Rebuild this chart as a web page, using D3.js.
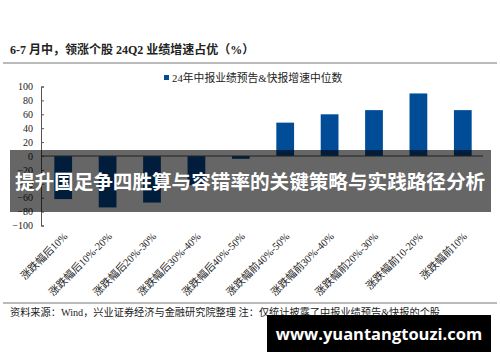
<!DOCTYPE html>
<html>
<head>
<meta charset="utf-8">
<script src="https://cdn.jsdelivr.net/npm/d3@7"></script>
<style>
  body { margin: 0; background: #fff; }
  svg { display: block; }
</style>
</head>
<body>
<svg id="chart" width="500" height="362"></svg>
<script>
// data
const categories = [
  "涨跌幅后10%", "涨跌幅后10%-20%", "涨跌幅后20%-30%", "涨跌幅后30%-40%", "涨跌幅后40%-50%",
  "涨跌幅前40%-50%", "涨跌幅前30%-40%", "涨跌幅前20%-30%", "涨跌幅前10-20%", "涨跌幅前10%"
];
const values = [-62, -74, -67, -42, -4, 48, 60, 66, 90, 66];
const yTicks = [100, 80, 60, 40, 20, 0, -20, -40, -60, -80, -100];
const seriesName = "24年中报业绩预告&快报增速中位数";
const title = "6-7 月中，领涨个股 24Q2 业绩增速占优（%）";
const source = "资料来源：Wind，兴业证券经济与金融研究院整理  注：仅统计披露了中报业绩预告&快报的个股";
const bannerText = "提升国足争四胜算与容错率的关键策略与实践路径分析";
const siteText = "www.yuantangtouzi.com";

const serif = "'Liberation Serif', 'Noto Sans CJK SC', serif";
const sans = "'Noto Sans CJK SC', 'Open Sans', sans-serif";

const svg = d3.select("#chart");

// title + rules
svg.append("text")
  .attr("x", 10).attr("y", 54)
  .attr("font-family", serif).attr("font-size", 12).attr("font-weight", "bold")
  .attr("fill", "#222")
  .text(title);

svg.append("line").attr("x1", 3).attr("x2", 497).attr("y1", 63).attr("y2", 63)
  .attr("stroke", "#777").attr("stroke-width", 1);
svg.append("line").attr("x1", 3).attr("x2", 497).attr("y1", 303).attr("y2", 303)
  .attr("stroke", "#777").attr("stroke-width", 1);

// scales
const x = d3.scaleBand().domain(categories).range([41, 485]).paddingInner(0.6).paddingOuter(0.3);
const y = d3.scaleLinear().domain([-100, 100]).range([225.5, 86.5]);

// y axis
const yAxis = svg.append("g")
  .attr("transform", "translate(41,0)")
  .call(d3.axisRight(y).tickValues(yTicks).tickSize(3).tickFormat(d3.format("d")));
yAxis.select(".domain").attr("stroke", "#555");
yAxis.selectAll(".tick line").attr("stroke", "#555");
yAxis.selectAll(".tick text")
  .attr("x", -8).attr("text-anchor", "end")
  .attr("font-family", serif).attr("font-size", 10).attr("fill", "#222");

// bars
svg.append("g").selectAll("rect")
  .data(values)
  .join("rect")
  .attr("x", (d, i) => x(categories[i]))
  .attr("width", x.bandwidth())
  .attr("y", d => y(Math.max(0, d)))
  .attr("height", d => Math.abs(y(d) - y(0)))
  .attr("fill", "#004c97");

// zero line
svg.append("line")
  .attr("x1", 41).attr("x2", 483).attr("y1", y(0)).attr("y2", y(0))
  .attr("stroke", "#555").attr("stroke-width", 1);

// x labels, rotated
svg.append("g").selectAll("text")
  .data(categories)
  .join("text")
  .attr("transform", d => `translate(${x(d) + x.bandwidth() / 2 + 5},237) rotate(-45)`)
  .attr("text-anchor", "end")
  .attr("font-family", serif).attr("font-size", 10.5).attr("fill", "#222")
  .text(d => d);

// legend
svg.append("rect").attr("x", 164).attr("y", 75).attr("width", 5).attr("height", 5).attr("fill", "#004c97");
svg.append("text")
  .attr("x", 172).attr("y", 81.5)
  .attr("font-family", serif).attr("font-size", 10.8).attr("fill", "#222")
  .text(seriesName);

// source
svg.append("text")
  .attr("x", 10).attr("y", 316)
  .attr("font-family", serif).attr("font-size", 10.2).attr("fill", "#222")
  .text(source);

// overlay banner
svg.append("rect").attr("x", 10).attr("y", 150).attr("width", 481).attr("height", 62)
  .attr("fill", "#000").attr("fill-opacity", 0.6);
svg.append("text")
  .attr("x", 250).attr("y", 189).attr("text-anchor", "middle")
  .attr("font-family", sans).attr("font-size", 19.6).attr("font-weight", "bold")
  .attr("fill", "#fff")
  .text(bannerText);

// site box
svg.append("rect").attr("x", 267).attr("y", 315).attr("width", 224).attr("height", 37).attr("fill", "#000");
svg.append("text")
  .attr("x", 379).attr("y", 339.5).attr("text-anchor", "middle")
  .attr("font-family", "'Open Sans', sans-serif").attr("font-size", 16.5).attr("font-weight", "bold")
  .attr("fill", "#fff")
  .text(siteText);
</script>
</body>
</html>
